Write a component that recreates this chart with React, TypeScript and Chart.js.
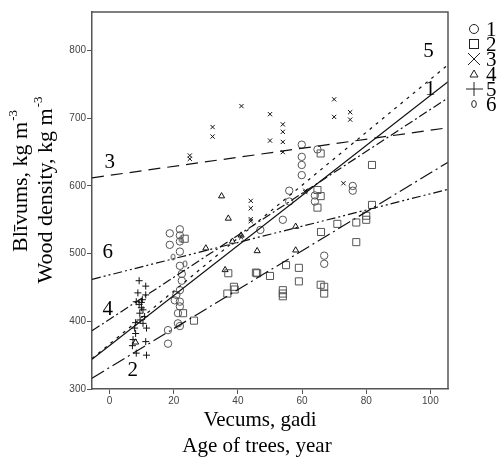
import React, { useEffect, useRef } from "react";
import { Chart, registerables } from "chart.js";

Chart.register(...registerables);

const ageTicks = [0, 20, 40, 60, 80, 100];
const densityTicks = [300, 400, 500, 600, 700, 800];

// Series 1: circles
const s1Age = [18.75, 18.75, 21.9, 21.9, 21.9, 21.9, 21.9, 21.9, 20.8, 20.3, 21.9, 21.9, 21.3, 21.3, 21.9, 18.2, 18.2, 59.9, 59.9, 59.9, 59.9, 64.8, 56, 56, 64, 64, 54, 75.8, 75.8, 66.9, 66.9, 47, 22.5, 22.5];
const s1Density = [530, 513, 536, 527, 518, 503, 482, 446, 439, 431, 429, 422, 412, 397, 393, 387, 367, 661, 643, 631, 616, 654, 593, 577, 586, 577, 550, 600, 593, 497, 485, 535, 470, 460];
// Series 2: squares
const s2Age = [64.8, 65.8, 64.8, 81.8, 80, 80, 76.9, 71, 65.9, 76.9, 46, 50, 55, 59, 59, 54, 54, 54, 65.8, 66.9, 66.9, 65.8, 81.8, 37, 36.7, 38.75, 39, 26.3, 22.9, 23.4, 45.6];
const s2Density = [594, 585, 568, 572, 556, 550, 546, 544, 532, 517, 471, 467, 483, 479, 459, 446, 441, 437, 454, 451, 441, 648, 631, 471, 441, 451, 447, 401, 412, 522, 472];
// Series 3: x
const s3Age = [25, 25, 32.1, 32.1, 41.1, 50, 50, 54, 54, 54, 54, 70, 70, 75, 75, 72.9, 61, 61, 44, 44, 44, 44, 41];
const s3Density = [640, 645, 687, 673, 718, 706, 667, 691, 680, 665, 650, 728, 702, 709, 698, 604, 591, 593, 578, 567, 551, 548, 524];
// Series 4: triangles
const s4Age = [34.9, 37, 30, 36, 38.3, 8.1, 46, 58, 58, 41];
const s4Density = [585, 552, 508, 476, 518, 369, 504, 540, 505, 527];
// Series 5: plus
const s5Age = [9.2, 11.25, 8.8, 11.25, 8.3, 9.9, 9.2, 10.4, 9.4, 10.9, 8.1, 10.4, 7.8, 11.5, 8.1, 7.3, 11.25, 7.1, 8.3, 11.5, 9.9, 10.2, 9.5];
const s5Density = [460, 452, 442, 439, 429, 428, 425, 417, 412, 407, 398, 397, 390, 390, 382, 373, 370, 364, 353, 350, 420, 432, 402];
// Series 6: small "0"
const s6Age = [19.8, 22.3, 23.5];
const s6Density = [495, 521, 485];

// Fit lines (ends at the x-axis limits)
const fitAge = [-5.5, 105.5];
const fit1 = [344, 754];
const fit2 = [316, 635];
const fit3 = [612, 686];
const fit4 = [386, 730];
const fit5 = [345, 779];
const fit6 = [462, 595];

const lineLabels = ["1", "2", "3", "4", "5", "6"];
const labelAge = [100, 7.2, 0, -0.6, 99.4, -0.6];
const labelDensity = [742, 328, 634, 417, 798, 502];

const SERIF = '"Liberation Serif", "DejaVu Serif", serif';

function zip(xs: number[], ys: number[]) {
  return xs.map((x, i) => ({ x, y: ys[i] }));
}

function makeZero(): HTMLCanvasElement {
  const c = document.createElement("canvas");
  c.width = 6;
  c.height = 8;
  const g = c.getContext("2d")!;
  g.strokeStyle = "#555";
  g.lineWidth = 1;
  g.beginPath();
  g.ellipse(3, 4, 2, 3, 0, 0, Math.PI * 2);
  g.stroke();
  return c;
}

export default function App() {
  const ref = useRef<HTMLCanvasElement>(null);
  useEffect(() => {
    const zero = makeZero();
    const pt = (data: any, style: any, r: number, color: string) => ({
      type: "scatter",
      data,
      pointStyle: style,
      pointRadius: r,
      pointBorderColor: color,
      pointBackgroundColor: "rgba(0,0,0,0)",
      pointBorderWidth: 1,
      showLine: false,
    });
    const ln = (ys: number[], dash: number[]) => ({
      type: "line",
      data: zip(fitAge, ys),
      borderColor: "#111",
      borderWidth: 1.2,
      borderDash: dash,
      pointRadius: 0,
      fill: false,
    });
    const overlay = {
      id: "overlay",
      afterDraw(chart: any) {
        const ctx = chart.ctx as CanvasRenderingContext2D;
        const a = chart.chartArea;
        const xs = chart.scales.x;
        const ys = chart.scales.y;
        ctx.save();
        // frame top/right
        ctx.strokeStyle = "#555";
        ctx.lineWidth = 1.5;
        ctx.beginPath();
        ctx.moveTo(a.left, a.top);
        ctx.lineTo(a.right, a.top);
        ctx.lineTo(a.right, a.bottom);
        ctx.stroke();
        // line labels
        ctx.fillStyle = "#000";
        ctx.font = `21px ${SERIF}`;
        ctx.textAlign = "center";
        ctx.textBaseline = "middle";
        lineLabels.forEach((t, i) => {
          ctx.fillText(t, xs.getPixelForValue(labelAge[i]), ys.getPixelForValue(labelDensity[i]));
        });
        // x title
        ctx.textBaseline = "alphabetic";
        ctx.fillText("Vecums, gadi", 260, 426);
        ctx.fillText("Age of trees, year", 257, 452);
        // y titles with superscripts
        const drawSup = (base: string, sup: string, cx: number, cy: number) => {
          ctx.save();
          ctx.font = `22px ${SERIF}`;
          const w1 = ctx.measureText(base).width;
          ctx.font = `13px ${SERIF}`;
          const w2 = ctx.measureText(sup).width;
          const total = w1 + w2 + 1;
          ctx.translate(cx, cy);
          ctx.rotate(-Math.PI / 2);
          ctx.textAlign = "left";
          ctx.font = `22px ${SERIF}`;
          ctx.fillText(base, -total / 2, 0);
          ctx.font = `13px ${SERIF}`;
          ctx.fillText(sup, -total / 2 + w1 + 1, -10);
          ctx.restore();
        };
        drawSup("Blīvums, kg m", "-3", 27, 181);
        drawSup("Wood density, kg m", "-3", 52, 190);
        // legend
        const lx = 474;
        const rows = [29, 44, 59, 74, 89, 104];
        ctx.font = `21px ${SERIF}`;
        ctx.textAlign = "left";
        ctx.textBaseline = "middle";
        lineLabels.forEach((t, i) => ctx.fillText(t, 486, rows[i] + 1));
        ctx.lineWidth = 1;
        ctx.strokeStyle = "#222";
        // circle
        ctx.beginPath();
        ctx.arc(lx, rows[0], 4.5, 0, Math.PI * 2);
        ctx.stroke();
        // square
        ctx.strokeRect(lx - 4.5, rows[1] - 4.5, 9, 9);
        // X
        ctx.beginPath();
        ctx.moveTo(lx - 6, rows[2] - 6);
        ctx.lineTo(lx + 6, rows[2] + 6);
        ctx.moveTo(lx + 6, rows[2] - 6);
        ctx.lineTo(lx - 6, rows[2] + 6);
        ctx.stroke();
        // triangle
        ctx.beginPath();
        ctx.moveTo(lx, rows[3] - 4);
        ctx.lineTo(lx + 4, rows[3] + 3);
        ctx.lineTo(lx - 4, rows[3] + 3);
        ctx.closePath();
        ctx.stroke();
        // plus
        ctx.beginPath();
        ctx.moveTo(lx - 8, rows[4]);
        ctx.lineTo(lx + 9, rows[4]);
        ctx.moveTo(lx, rows[4] - 7);
        ctx.lineTo(lx, rows[4] + 7);
        ctx.stroke();
        // zero
        ctx.beginPath();
        ctx.ellipse(lx, rows[5], 2.3, 3.5, 0, 0, Math.PI * 2);
        ctx.stroke();
        ctx.restore();
      },
    };
    const chart = new Chart(ref.current!, {
      type: "scatter",
      data: {
        datasets: [
          ln(fit1, []),
          ln(fit2, [14, 4, 2, 4]),
          ln(fit3, [12, 7]),
          ln(fit4, [9, 3, 2, 3]),
          ln(fit5, [3, 5]),
          ln(fit6, [9, 3, 2, 3, 2, 3]),
          pt(zip(s1Age, s1Density), "circle", 3.7, "#555"),
          pt(zip(s2Age, s2Density), "rect", 5, "#555"),
          pt(zip(s3Age, s3Density), "crossRot", 3, "#111"),
          pt(zip(s4Age, s4Density), "triangle", 3.5, "#111"),
          pt(zip(s5Age, s5Density), "cross", 3.5, "#111"),
          pt(zip(s6Age, s6Density), zero, 4, "#555"),
        ] as any,
      },
      options: {
        animation: false,
        responsive: false,
        maintainAspectRatio: false,
        layout: { padding: { left: 0, top: 12, right: 53, bottom: 0 } },
        plugins: { legend: { display: false }, tooltip: { enabled: false } },
        scales: {
          x: {
            type: "linear",
            min: -5.5,
            max: 105.5,
            afterBuildTicks: (s: any) => {
              s.ticks = ageTicks.map((v) => ({ value: v }));
            },
            afterFit: (s: any) => {
              s.height = 69;
            },
            grid: { drawOnChartArea: false, drawTicks: true, tickLength: 5, color: "#555", lineWidth: 1 },
            border: { display: true, color: "#555", width: 1.5 },
            ticks: { font: { family: '"Liberation Sans", Arial, sans-serif', size: 10 }, color: "#444", padding: 1, maxRotation: 0 },
          },
          y: {
            type: "linear",
            min: 300,
            max: 857,
            afterBuildTicks: (s: any) => {
              s.ticks = densityTicks.map((v) => ({ value: v }));
            },
            afterFit: (s: any) => {
              s.width = 92;
            },
            grid: { drawOnChartArea: false, drawTicks: true, tickLength: 5, color: "#555", lineWidth: 1 },
            border: { display: true, color: "#555", width: 1.5 },
            ticks: { font: { family: '"Liberation Sans", Arial, sans-serif', size: 10 }, color: "#444", padding: 1 },
          },
        },
      } as any,
      plugins: [overlay],
    });
    return () => chart.destroy();
  }, []);
  return (
    <div style={{ position: "fixed", left: 0, top: 0, width: 501, height: 458, background: "#fff" }}>
      <canvas ref={ref} width={501} height={458} style={{ width: 501, height: 458 }} />
    </div>
  );
}
